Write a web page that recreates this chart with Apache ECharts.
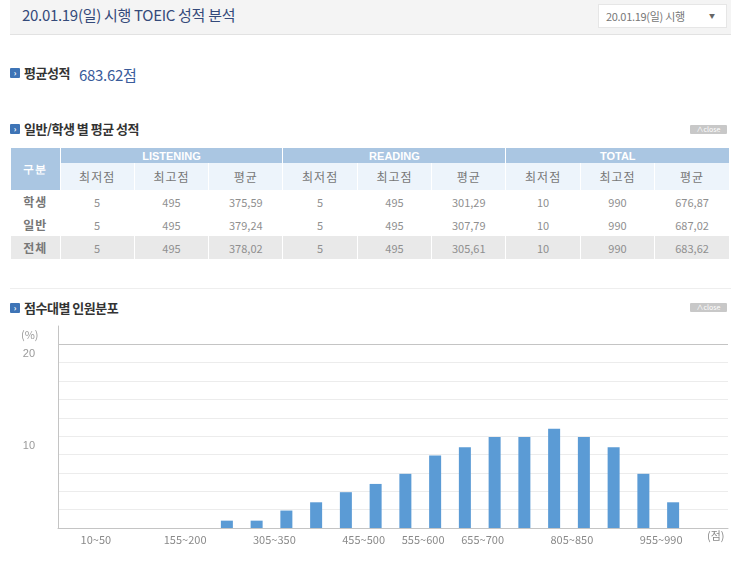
<!DOCTYPE html>
<html>
<head>
<meta charset="utf-8">
<script src="https://cdn.jsdelivr.net/npm/echarts@6/dist/echarts.min.js"></script>
<style>
  html, body { margin:0; padding:0; width:745px; height:562px; overflow:hidden; background:#fff;
    font-family:"Noto Sans CJK KR","Noto Sans",sans-serif; }
  .abs { position:absolute; }
  #topbar { left:10px; top:0; width:721px; height:34px; background:#f4f4f4; border-bottom:1px solid #e2e2e2; }
  #title { left:22px; top:4px; font-size:15px; color:#344a7a; letter-spacing:-0.3px; }
  #sel { left:598px; top:4px; width:127px; height:22px; background:#fff; border:1px solid #e6e6e6; }
  #selt { left:7px; top:3px; font-size:11px; color:#777; letter-spacing:-0.3px; }
  #selarr { left:110px; top:6px; font-size:6px; color:#666; }
  .icon { width:10px; height:10px; background:#3e74b6; border-radius:1px; color:#fff; font-size:8px; line-height:10px; text-align:center; font-weight:bold; }
  .sec { font-size:13px; font-weight:bold; color:#333; letter-spacing:-0.5px; }
  .close { width:37px; height:9px; background:#c8c8c8; color:#fff; font-size:7px; line-height:9px; text-align:center; border-radius:1px; }
  #avgv { left:79px; top:64px; font-size:15px; color:#3a5c9b; letter-spacing:-0.3px; }
  table { border-collapse:collapse; table-layout:fixed; }
  td { padding:0; text-align:center; border-left:1px solid #fff; font-size:11px; color:#8f8f8f; }
  tr.h1 td { background:#aac6e2; color:#fff; font-weight:bold; height:15px; font-size:11px; font-family:"Liberation Sans","DejaVu Sans",sans-serif; }
  tr.h2 td { background:#edf4fb; color:#777; height:27px; font-size:12px; letter-spacing:1px; }
  td.gub { background:#aac6e2 !important; color:#fff !important; font-size:12px; letter-spacing:1px; }
  tr.d td { height:23px; background:#fff; }
  tr.d td.first { color:#777; font-size:12px; letter-spacing:1px; font-weight:bold; }
  tr.d.last td { background:#e9e9e9; }
  #sep { left:10px; top:288px; width:721px; height:1px; background:#eeeeee; }
</style>
</head>
<body>
<div id="topbar" class="abs"></div>
<div id="title" class="abs">20.01.19(일) 시행 TOEIC 성적 분석</div>
<div id="sel" class="abs"><div id="selt" class="abs">20.01.19(일) 시행</div><div id="selarr" class="abs">▼</div></div>

<div class="abs icon" style="left:10px;top:68px;">›</div>
<div class="abs sec" style="left:24px;top:63px;">평균성적</div>
<div id="avgv" class="abs">683.62점</div>

<div class="abs icon" style="left:10px;top:124px;">›</div>
<div class="abs sec" style="left:24px;top:119px;">일반/학생 별 평균 성적</div>
<div class="abs close" style="left:690px;top:125px;">∧close</div>

<div class="abs" style="left:11px;top:148px;" id="tblwrap"></div>

<div id="sep" class="abs"></div>

<div class="abs icon" style="left:10px;top:303px;">›</div>
<div class="abs sec" style="left:24px;top:298px;">점수대별 인원분포</div>
<div class="abs close" style="left:690px;top:303px;">∧close</div>

<div id="chart" class="abs" style="left:0;top:316px;width:745px;height:246px;"></div>

<script>
// ---- table data ----
const sections = ['LISTENING', 'READING', 'TOTAL'];
const subHeads = ['최저점', '최고점', '평균'];
const rowNames = ['학생', '일반', '전체'];
const rowStudent = ['5', '495', '375,59', '5', '495', '301,29', '10', '990', '676,87'];
const rowGeneral = ['5', '495', '379,24', '5', '495', '307,79', '10', '990', '687,02'];
const rowAll     = ['5', '495', '378,02', '5', '495', '305,61', '10', '990', '683,62'];

// ---- chart data ----
const bands = ['10~50','55~100','105~150','155~200','205~250','255~300','305~350','355~400','405~450','455~500',
               '505~550','555~600','605~650','655~700','705~750','755~800','805~850','855~900','905~950','955~990'];
const shares = [0, 0, 0, 0, 0.8, 0.8, 1.9, 2.8, 3.9, 4.8, 5.9, 7.9, 8.8, 9.9, 9.9, 10.8, 9.9, 8.8, 5.9, 2.8];
const shownBands = ['10~50','155~200','305~350','455~500','555~600','655~700','805~850','955~990'];
const yTickLabels = [10, 20];

// build table
(function () {
  const rows = [rowStudent, rowGeneral, rowAll];
  let h = '<table style="width:718px;"><colgroup><col style="width:49px">';
  for (let i = 0; i < 9; i++) h += '<col>';
  h += '</colgroup>';
  h += '<tr class="h1"><td class="gub" rowspan="2" style="border-left:none">구분</td>';
  sections.forEach(s => { h += '<td colspan="3">' + s + '</td>'; });
  h += '</tr><tr class="h2">';
  sections.forEach(() => subHeads.forEach(sh => { h += '<td>' + sh + '</td>'; }));
  h += '</tr>';
  rows.forEach((r, i) => {
    h += '<tr class="d' + (i === rows.length - 1 ? ' last' : '') + '"><td class="first" style="border-left:none">' + rowNames[i] + '</td>';
    r.forEach(v => { h += '<td>' + v + '</td>'; });
    h += '</tr>';
  });
  h += '</table>';
  document.getElementById('tblwrap').innerHTML = h;
})();

// chart
const chart = echarts.init(document.getElementById('chart'), null, { renderer: 'canvas' });
const splitColors = [];
for (let i = 0; i < 12; i++) splitColors.push(i === 10 ? '#c4c4c4' : '#ececec');
const option = {
  animation: false,
  grid: [
    { left: 58, right: 17, top: 10, bottom: 34 },
    { left: 93, right: 57, top: 10, bottom: 34 }
  ],
  xAxis: [
    { gridIndex: 0, type: 'value', min: 0, max: 1, axisLine: { show: true, lineStyle: { color: '#c4c4c4', width: 1 } },
      axisTick: { show: false }, axisLabel: { show: false }, splitLine: { show: false } },
    { gridIndex: 1, type: 'category', data: bands, axisLine: { show: false }, axisTick: { show: false },
      axisLabel: { interval: 0, margin: 6, fontSize: 11, color: '#8a8a8a', padding: [0, 24, 0, 0],
        fontFamily: 'Noto Sans CJK KR',
        formatter: v => shownBands.indexOf(v) >= 0 ? v : '' } }
  ],
  yAxis: [
    { gridIndex: 0, type: 'value', min: 0, max: 22, interval: 2,
      axisLine: { show: true, lineStyle: { color: '#c4c4c4', width: 1 } }, axisTick: { show: false },
      axisLabel: { margin: 23, fontSize: 11, color: '#9a9a9a', verticalAlign: 'top', padding: [4, 0, 0, 0],
        formatter: v => yTickLabels.indexOf(v) >= 0 ? String(v) : '' },
      splitLine: { show: true, showMaxLine: false, lineStyle: { color: splitColors, width: 1 } } },
    { gridIndex: 1, type: 'value', min: 0, max: 22, interval: 2, show: false }
  ],
  graphic: [
    { type: 'text', left: 21, top: 13, style: { text: '(%)', fontSize: 11, fill: '#9a9a9a', fontFamily: 'Noto Sans CJK KR' } },
    { type: 'text', left: 707, top: 214, style: { text: '(점)', fontSize: 11, fill: '#8a8a8a', fontFamily: 'Noto Sans CJK KR' } }
  ],
  series: [
    { type: 'bar', xAxisIndex: 1, yAxisIndex: 1, data: shares, barWidth: 12,
      itemStyle: { color: '#5b9bd5' } }
  ]
};
chart.setOption(option);
</script>
</body>
</html>
